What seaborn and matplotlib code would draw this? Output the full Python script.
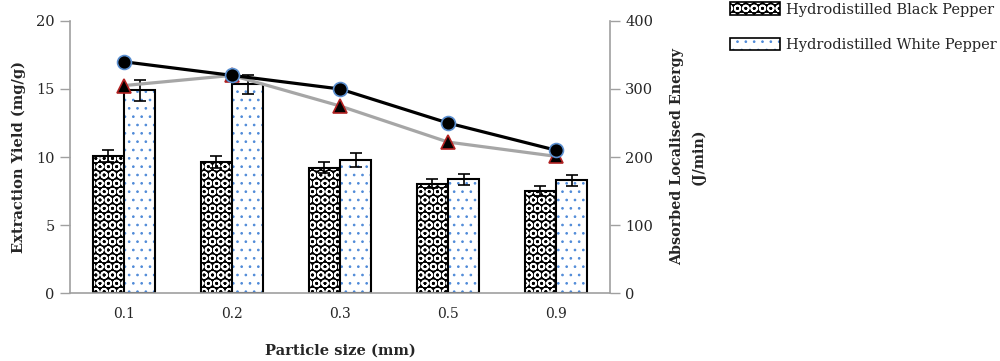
import numpy as np
import pandas as pd
import matplotlib
matplotlib.use("Agg")
import matplotlib.pyplot as plt
import matplotlib.colors as mcolors
from matplotlib.patches import Patch
import seaborn as sns

# ---- data ----
particle_sizes = ["0.1", "0.2", "0.3", "0.5", "0.9"]
black_yield = [10.1, 9.6, 9.2, 8.05, 7.5]
black_err = [0.45, 0.44, 0.4, 0.32, 0.37]
white_yield = [14.9, 15.35, 9.8, 8.38, 8.28]
white_err = [0.75, 0.7, 0.5, 0.4, 0.42]
energy_black = [340, 320, 300, 250, 210]
energy_white = [305, 320, 275, 222, 201]
series_names = ["Hydrodistilled Black Pepper", "Hydrodistilled White Pepper"]

sns.set_theme(style="white")
plt.rcParams["font.family"] = ["DejaVu Serif"]
plt.rcParams["hatch.linewidth"] = 1.2

GRAY = "#a0a0a0"
DOT_BLUE = "#4f8ad8"


def style_black(p):
    p.set_facecolor("black")
    p.set_edgecolor("black")
    p.set_hatch("OO")
    p._hatch_color = mcolors.to_rgba("white")
    if hasattr(p, "_hatch_linewidth"):
        p._hatch_linewidth = 1.2


def style_white(p):
    p.set_facecolor("white")
    p.set_edgecolor("black")
    p.set_hatch("..")
    p._hatch_color = mcolors.to_rgba(DOT_BLUE)
    if hasattr(p, "_hatch_linewidth"):
        p._hatch_linewidth = 0.7


df = pd.DataFrame({
    "size": particle_sizes * 2,
    "yield": black_yield + white_yield,
    "series": [series_names[0]] * len(particle_sizes) + [series_names[1]] * len(particle_sizes),
})

fig = plt.figure(figsize=(10, 3.61), dpi=100)
ax = fig.add_axes([0.070, 0.188, 0.540, 0.754])

sns.barplot(data=df, x="size", y="yield", hue="series", order=particle_sizes,
            hue_order=series_names, palette=["black", "white"], width=0.58,
            errorbar=None, ax=ax, legend=False, linewidth=1.5, edgecolor="black", zorder=2)

n = len(particle_sizes)
bars = ax.patches[:2 * n]
for i, p in enumerate(bars):
    p.set_linewidth(1.5)
    if i < n:
        style_black(p)
    else:
        style_white(p)

xs_b = [p.get_x() + p.get_width() / 2 for p in bars[:n]]
xs_w = [p.get_x() + p.get_width() / 2 for p in bars[n:]]
ax.errorbar(xs_b, black_yield, yerr=black_err, fmt="none", ecolor="black",
            elinewidth=1.2, capsize=4, capthick=1.2, zorder=3)
ax.errorbar(xs_w, white_yield, yerr=white_err, fmt="none", ecolor="black",
            elinewidth=1.2, capsize=4, capthick=1.2, zorder=3)

ax.set_ylim(0, 20)
ax.set_yticks([0, 5, 10, 15, 20])
ax.set_xlim(-0.5, n - 0.5)
ax.set_xticks(range(n))
ax.set_xticklabels(particle_sizes)
ax.set_xticks(np.arange(-0.5, n, 1.0), minor=True)
ax.tick_params(axis="x", which="major", length=0, pad=10, labelsize=10)
ax.tick_params(axis="x", which="minor", length=7, width=1, color=GRAY, direction="out")
ax.tick_params(axis="y", length=7, width=1, color=GRAY, direction="out", pad=4, labelsize=10.5, left=True)
for s in ["top", "right"]:
    ax.spines[s].set_visible(False)
for s in ["left", "bottom"]:
    ax.spines[s].set_color(GRAY)
    ax.spines[s].set_linewidth(1.2)

ax.set_xlabel("Particle size (mm)", fontsize=10.5, fontweight="bold", labelpad=16)
ax.set_ylabel("Extraction Yield (mg/g)", fontsize=10.5, fontweight="bold", labelpad=7)

ax2 = ax.twinx()
ldf = pd.DataFrame({"size": particle_sizes, "eb": energy_black, "ew": energy_white})
sns.pointplot(data=ldf, x="size", y="ew", order=particle_sizes, color="#a6a6a6",
              markers="^", ax=ax2, errorbar=None, linewidth=2.3, markersize=10,
              markerfacecolor="black", markeredgecolor="#b22222", markeredgewidth=1.2)
sns.pointplot(data=ldf, x="size", y="eb", order=particle_sizes, color="black",
              markers="o", ax=ax2, errorbar=None, linewidth=2.3, markersize=10,
              markerfacecolor="black", markeredgecolor="#5b8fd0", markeredgewidth=1.2)
ax2.set_ylim(0, 400)
ax2.set_yticks([0, 100, 200, 300, 400])
ax2.set_xlim(-0.5, n - 0.5)
ax2.set_xticks(range(n))
ax2.set_xticklabels(particle_sizes)
ax2.set_xlabel("")
ax2.set_ylabel("Absorbed Localised Energy\n(J/min)", fontsize=10.3, fontweight="bold",
               labelpad=12, linespacing=1.6)
ax2.tick_params(axis="y", length=7, width=1, color=GRAY, direction="out", pad=4, labelsize=10.5, right=True)
ax2.tick_params(axis="x", which="both", length=0)
for s in ["top", "left", "bottom"]:
    ax2.spines[s].set_visible(False)
ax2.spines["right"].set_color(GRAY)
ax2.spines["right"].set_linewidth(1.2)

handles = [
    Patch(facecolor="black", edgecolor="black", hatch="OO", linewidth=1.2),
    Patch(facecolor="white", edgecolor="black", hatch="..", linewidth=1.2),
]
leg = fig.legend(handles, series_names, loc="upper left", bbox_to_anchor=(0.717, 1.03),
                 frameon=False, fontsize=10.5, handlelength=3.4, handleheight=0.95,
                 labelspacing=1.45, handletextpad=0.4)
lp = leg.get_patches()
style_black(lp[0])
style_white(lp[1])
for p in lp:
    p.set_linewidth(1.2)

fig.savefig("out.png", dpi=100, facecolor="white")
